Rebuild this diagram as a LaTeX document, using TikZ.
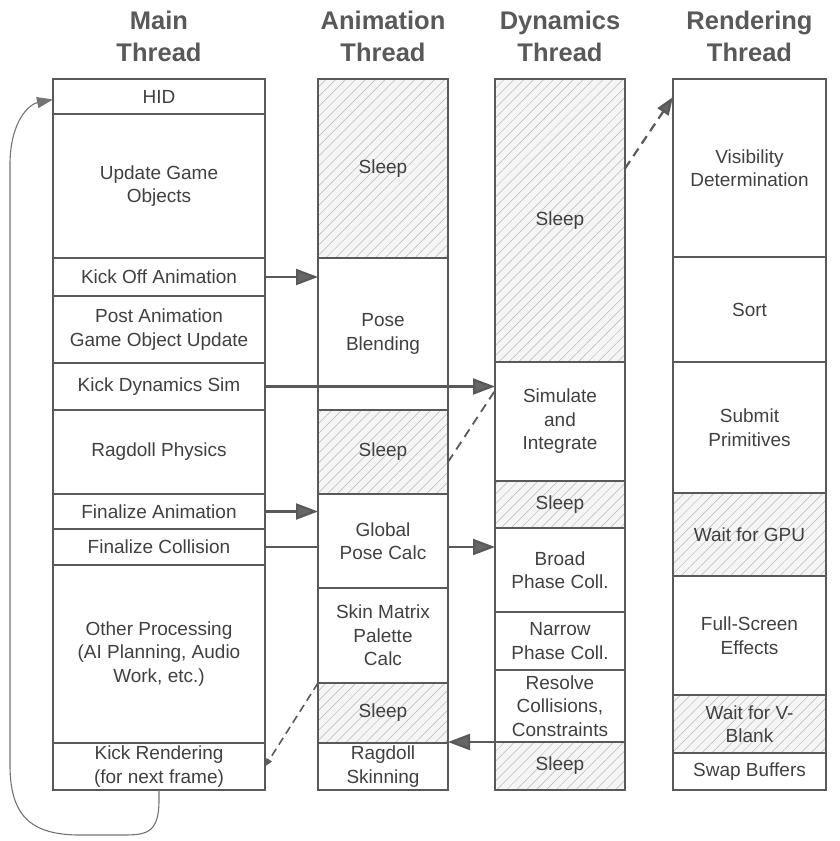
\documentclass[tikz,border=0pt]{standalone}
\usepackage{fontspec}
\setmainfont{Liberation Sans}
\usetikzlibrary{arrows.meta,patterns.meta,calc}
\tikzset{
  cellbase/.style={draw=black!65, line width=1.7pt, inner sep=0pt, outer sep=0pt, align=center, text=black!75, font=\fontsize{19}{23.5}\selectfont},
  hatch/.style={preaction={fill=black!4}, pattern={Lines[angle=45,distance=7pt,line width=0.5pt]}, pattern color=black!28},
  hdr/.style={align=center, text=black!65, font=\fontsize{25.5}{32}\selectfont\bfseries},
  conn/.style={draw=black!65, line width=2.2pt},
  arr/.style={conn, -{Triangle[length=22pt,width=16pt,fill=black!60]}},
  darr/.style={conn, dash pattern=on 9pt off 6pt, -{Triangle[length=18pt,width=13pt,fill=black!60]}},
  dline/.style={conn, line width=1.8pt, dash pattern=on 9pt off 6pt},
  darrsmall/.style={conn, line width=1.6pt, dash pattern=on 8pt off 5pt, -{Triangle[length=8pt,width=6pt,fill=black!60]}},
  looparr/.style={draw=black!55, line width=1.1pt, -{Triangle[length=16pt,width=11pt,fill=black!55]}}
}
\newcommand\cell[7]{\node[cellbase,#6,minimum width={(#3-#2)*1pt},minimum height={(#5-#4)*1pt}] (#1) at ({(#2+#3)/2},{(#4+#5)/2}) {#7};}
\begin{document}
\begin{tikzpicture}[x=1pt,y=-1pt]
\useasboundingbox (0,0) rectangle (839,841);
% headers
\node[hdr] (h1) at (159,36) {Main\\Thread};
\node[hdr] (h2) at (383,36) {Animation\\Thread};
\node[hdr] (h3) at (560,36) {Dynamics\\Thread};
\node[hdr] (h4) at (749.5,36) {Rendering\\Thread};
% main thread
\cell{hid}{53}{265}{79}{114}{}{HID}
\cell{ugo}{53}{265}{114}{258}{}{Update Game\\Objects}
\cell{koa}{53}{265}{258}{296}{}{Kick Off Animation}
\cell{pau}{53}{265}{296}{363}{}{Post Animation\\Game Object Update}
\cell{kds}{53}{265}{363}{410}{}{Kick Dynamics Sim}
\cell{rp}{53}{265}{410}{494}{}{Ragdoll Physics}
\cell{fa}{53}{265}{494}{529}{}{Finalize Animation}
\cell{fc}{53}{265}{529}{565}{}{Finalize Collision}
\cell{op}{53}{265}{565}{743}{}{Other Processing\\(AI Planning, Audio\\Work, etc.)}
\cell{kr}{53}{265}{743}{790}{}{Kick Rendering\\(for next frame)}
% animation thread
\cell{as1}{318}{448}{79}{258}{hatch}{Sleep}
\cell{pb}{318}{448}{258}{410}{}{Pose\\Blending}
\cell{as2}{318}{448}{410}{494}{hatch}{Sleep}
\cell{gpc}{318}{448}{494}{588}{}{Global\\Pose Calc}
\cell{smp}{318}{448}{588}{683}{}{Skin Matrix\\Palette\\Calc}
\cell{as3}{318}{448}{683}{743}{hatch}{Sleep}
\cell{rs}{318}{448}{743}{790}{}{Ragdoll\\Skinning}
% dynamics thread
\cell{ds1}{495}{625}{79}{362}{hatch}{Sleep}
\cell{sim}{495}{625}{362}{481}{}{Simulate\\and\\Integrate}
\cell{ds2}{495}{625}{481}{528}{hatch}{Sleep}
\cell{bpc}{495}{625}{528}{612}{}{Broad\\Phase Coll.}
\cell{npc}{495}{625}{612}{670}{}{Narrow\\Phase Coll.}
\cell{rc}{495}{625}{670}{742}{}{Resolve\\Collisions,\\Constraints}
\cell{ds3}{495}{625}{742}{790}{hatch}{Sleep}
% rendering thread
\cell{vis}{673}{826}{79}{257}{}{Visibility\\Determination}
\cell{sort}{673}{826}{257}{362}{}{Sort}
\cell{sp}{673}{826}{362}{493}{}{Submit\\Primitives}
\cell{wgpu}{673}{826}{493}{576}{hatch}{Wait for GPU}
\cell{fse}{673}{826}{576}{695}{}{Full-Screen\\Effects}
\cell{wvb}{673}{826}{695}{753}{hatch}{Wait for V-\\Blank}
\cell{swap}{673}{826}{753}{790}{}{Swap Buffers}
% connectors
\draw[arr] (koa.east) -- (koa.east -| pb.west);
\draw[arr] (kds.east) -- (kds.east -| sim.west);
\draw[arr] (fa.east) -- (fa.east -| gpc.west);
\draw[conn] (fc.east) -- (fc.east -| gpc.west);
\draw[arr] (fc.east -| gpc.east) -- (fc.east -| bpc.west);
\draw[arr] (rc.south west) -- (rc.south west -| rs.east);
\draw[darr] ([yshift=52pt]ds1.east) -- ([yshift=71pt]vis.west);
\draw[dline] ([yshift=-10pt]as2.east) -- ([yshift=31pt]sim.west);
\draw[darrsmall] (as3.north west) -- (kr.east);
\draw[looparr] (kr.south) -- (159,800) .. controls (159,835) and (145,835) .. (120,835) -- (80,835) .. controls (30,835) and (10,815) .. (10,765) -- (10,165) .. controls (10,120) and (30,104) .. ([yshift=-3pt]hid.west);
\end{tikzpicture}
\end{document}
